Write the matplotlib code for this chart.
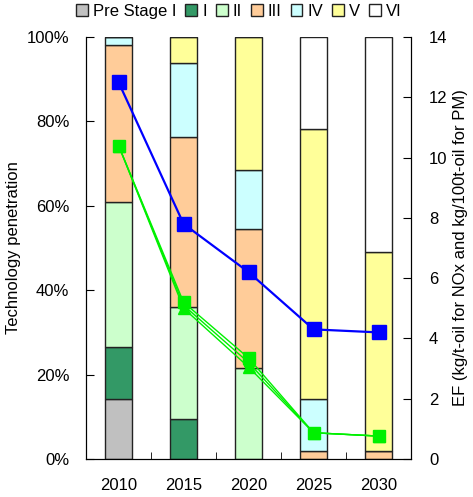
import matplotlib
matplotlib.use("Agg")
import matplotlib.pyplot as plt
import numpy as np
from matplotlib.patches import Patch

plt.rcParams['font.family'] = ['Liberation Sans', 'DejaVu Sans']

years = ['2010', '2015', '2020', '2025', '2030']
stages = ['Pre Stage I', 'I', 'II', 'III', 'IV', 'V', 'VI']
stage_colors = ['#C0C0C0', '#339966', '#CCFFCC', '#FFCC99', '#CCFFFF', '#FFFF99', '#FFFFFF']

# technology shares (%) per stage, one value per year
share = {
    'Pre Stage I': [14.2, 0, 0, 0, 0],
    'I':           [12.3, 9.5, 0, 0, 0],
    'II':          [34.5, 26.5, 21.6, 0, 0],
    'III':         [37.0, 40.3, 32.9, 2.0, 2.0],
    'IV':          [2.0, 17.5, 14.0, 12.2, 0],
    'V':           [0, 6.2, 31.5, 64.0, 47.0],
    'VI':          [0, 0, 0, 21.8, 51.0],
}

# emission factors (right axis)
ef_blue = [12.5, 7.8, 6.2, 4.3, 4.2]
ef_green_sq = [10.4, 5.2, 3.35, 0.87, 0.76]
ef_green_ci = [10.4, 5.1, 3.2, 0.87, 0.76]
ef_green_tr = [10.4, 5.0, 3.05, 0.87, 0.76]

fig = plt.figure(figsize=(4.73, 4.97), dpi=100)
ax = fig.add_axes([0.182, 0.0765, 0.687, 0.849])
x = np.arange(len(years))

bottom = np.zeros(len(years))
for st, col in zip(stages, stage_colors):
    vals = np.array(share[st])
    ax.bar(x, vals, bottom=bottom, width=0.41, color=col, edgecolor='#222222', linewidth=1.0, zorder=2)
    bottom += vals

ax.set_xlim(-0.5, 4.5)
ax.set_ylim(0, 100)
ax.set_yticks(np.arange(0, 101, 20))
ax.set_yticklabels(['%d%%' % v for v in range(0, 101, 20)])
ax.set_xticks(x)
ax.set_xticklabels(years)
ax.set_xticks(x[:-1] + 0.5, minor=True)
ax.tick_params(axis='x', which='major', length=0, pad=14, labelsize=12)
ax.tick_params(axis='x', which='minor', length=5, direction='in')
ax.tick_params(axis='y', direction='in', length=6, labelsize=12, pad=12)
ax.set_ylabel('Technology penetration', fontsize=12, labelpad=4)
ax.spines['top'].set_visible(False)

ax2 = ax.twinx()
ax2.plot(x, ef_blue, color='#0000FF', lw=1.6, marker='s', ms=9.5, zorder=5)
ax2.plot(x, ef_green_tr, color='#00F000', lw=1.0, marker='^', ms=8, zorder=4)
ax2.plot(x, ef_green_ci, color='#00F000', lw=1.0, marker='o', ms=8, zorder=4)
ax2.plot(x, ef_green_sq, color='#00F000', lw=1.0, marker='s', ms=8, zorder=4)
ax2.set_ylim(0, 14)
ax2.set_yticks(np.arange(0, 15, 2))
ax2.tick_params(axis='y', direction='in', length=6, labelsize=12, pad=13)
ax2.set_ylabel('EF (kg/t-oil for NOx and kg/100t-oil for PM)', fontsize=12, labelpad=4)
ax2.spines['top'].set_visible(False)

handles = [Patch(facecolor=c, edgecolor='#222222', linewidth=1.0) for c in stage_colors]
fig.legend(handles, stages, loc='upper center', bbox_to_anchor=(0.505, 1.012), ncol=7,
           frameon=False, fontsize=12, handlelength=0.7, handleheight=0.7,
           handletextpad=0.3, columnspacing=0.55, borderaxespad=0.2)

fig.savefig('out.png', dpi=100)
